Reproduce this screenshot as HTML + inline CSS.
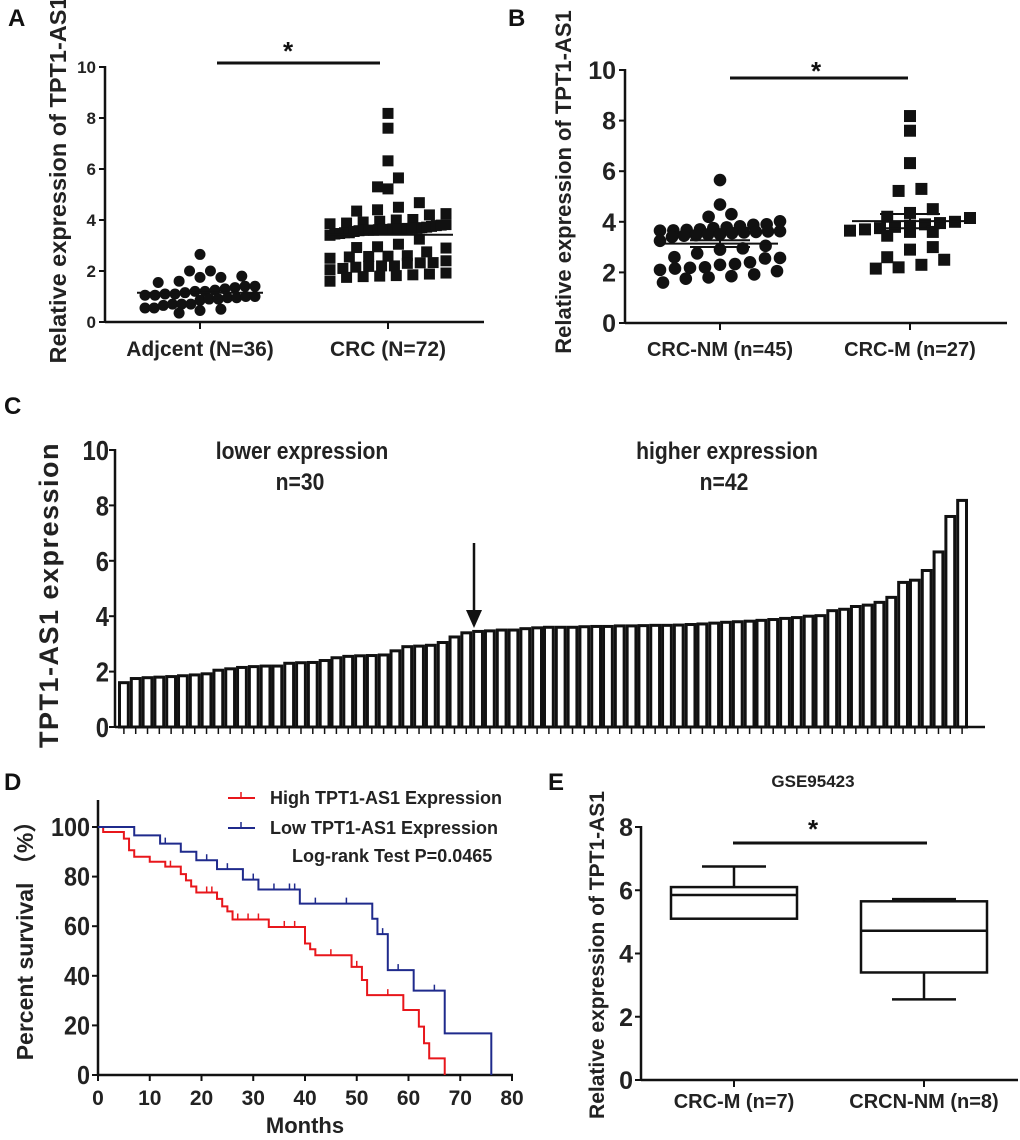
<!DOCTYPE html>
<html><head><meta charset="utf-8"><style>
html,body{margin:0;padding:0;background:#fff}
svg{display:block;font-family:"Liberation Sans",Arial,sans-serif;font-weight:bold}
</style></head><body>
<svg id="fig" width="1020" height="1140" viewBox="0 0 1020 1140" xmlns="http://www.w3.org/2000/svg"></svg>
<script>
// ---------- DATA ----------
const adjValues=[2.65,2.0,2.0,1.75,1.75,1.8,1.6,1.55,1.4,1.4,1.35,1.3,1.25,1.2,1.2,1.15,1.1,1.1,1.05,1.05,1.0,1.0,0.95,0.95,0.9,0.9,0.85,0.7,0.7,0.7,0.65,0.55,0.55,0.5,0.45,0.35];
const lowerBars=[1.6,1.75,1.78,1.8,1.82,1.85,1.88,1.92,2.05,2.1,2.15,2.18,2.2,2.2,2.3,2.32,2.33,2.4,2.5,2.55,2.57,2.58,2.6,2.75,2.9,2.92,2.95,3.05,3.25,3.4];
const higherBars=[3.45,3.47,3.5,3.5,3.55,3.58,3.6,3.6,3.6,3.62,3.63,3.63,3.65,3.65,3.66,3.67,3.67,3.68,3.7,3.72,3.75,3.78,3.8,3.82,3.85,3.88,3.92,3.95,4.0,4.02,4.2,4.25,4.35,4.4,4.5,4.68,5.22,5.3,5.65,6.32,7.6,8.18];
const nmValues=[5.65,4.68,4.3,4.2,4.02,3.9,3.88,3.82,3.78,3.75,3.7,3.68,3.66,3.65,3.63,3.62,3.6,3.58,3.55,3.5,3.5,3.47,3.45,3.4,3.25,3.05,2.95,2.9,2.75,2.6,2.57,2.55,2.4,2.33,2.3,2.2,2.18,2.15,2.1,2.05,1.92,1.85,1.8,1.75,1.6];
const mValues=[8.18,7.6,6.32,5.3,5.22,4.5,4.35,4.2,4.15,4.0,3.95,3.9,3.85,3.8,3.75,3.7,3.65,3.6,3.6,3.45,3.0,2.9,2.6,2.5,2.3,2.2,2.15];
const highKmTimes=[0,1,5,6,7,10,13,16,17,18,19,23,24,25,26,33,40,41,42,49,51,52,59,62,63,64,67];
const highKmSurv=[100,98,95.3,90.6,88,86,84,81,78.5,76,73.6,71,68,66,62.7,59.7,53,50.7,48.3,43.6,38.3,32.2,26.2,19.5,12.8,6.7,0];
const highCensor=[14,21,22,27,29,31,36,38,41,45,50,56];
const lowKmTimes=[0,7,12,16,19,23,28,31,39,53,54,56,61,67,76];
const lowKmSurv=[100,96.6,93.3,90,86.6,83,78.8,74.8,69.1,63,56.8,42.3,34,16.8,0];
const lowCensor=[13,21,25,30,34,37,38,42,48,55,58,65];
const boxGroups=["CRC-M (n=7)","CRCN-NM (n=8)"];
const boxMin=[5.1,2.55];
const boxQ1=[5.1,3.4];
const boxMed=[5.85,4.72];
const boxQ3=[6.1,5.65];
const boxMax=[6.75,5.72];
const ticks10=[0,2,4,6,8,10];
const ticks8=[0,2,4,6,8];
const kmYTicks=[0,20,40,60,80,100];
const kmXTicks=[0,10,20,30,40,50,60,70,80];

// ---------- HELPERS ----------
const svg=document.getElementById('fig');
const NS='http://www.w3.org/2000/svg';
function mk(tag,attrs,parent){const e=document.createElementNS(NS,tag);for(const k in attrs)e.setAttribute(k,attrs[k]);(parent||svg).appendChild(e);return e;}
function txt(s,attrs,parent){const e=mk('text',attrs,parent);e.textContent=s;return e;}
function lin(x1,y1,x2,y2,w,c,parent){return mk('line',{x1,y1,x2,y2,stroke:c||'#111','stroke-width':w||2},parent);}
function mean(a){return a.reduce((s,v)=>s+v,0)/a.length;}
function sem(a){const m=mean(a);return Math.sqrt(a.reduce((s,v)=>s+(v-m)*(v-m),0)/(a.length-1))/Math.sqrt(a.length);}
// row-binned swarm with limited half width
function swarm(vals,cx,y,d,maxHW){const rows={};
 vals.slice().sort((a,b)=>a-b).forEach(v=>{const k=Math.round(y(v)/(d*1.1));(rows[k]=rows[k]||[]).push(v);});
 const pts=[];
 Object.keys(rows).forEach(k=>{const r=rows[k];const n=r.length;
  const s=n>1?Math.min(d*1.9,2*maxHW/(n-1)):0;
  r.forEach((v,i)=>{pts.push({x:cx+(i-(n-1)/2)*s,y:y(v),v});});});
 return pts;}

// ---------- PANEL LETTERS ----------
[['A',8,26],['B',508,26],['C',4,414],['D',4,790],['E',548,790]].forEach(([l,x,y])=>{
 const t=txt(l,{x,y,'font-size':24,fill:'#111'});
 
 });

// ---------- PANEL A ----------
(function(){
 const g=mk('g',{});
 const X0=105,X1=484,Y0=322,Y10=67;const y=v=>Y0+(Y10-Y0)*v/10;
 lin(X0,Y10-1,X0,Y0+1,2.5,'#111',g);lin(X0,Y0,X1,Y0,2.5,'#111',g);
 ticks10.forEach(t=>{lin(X0-6,y(t),X0,y(t),2,'#111',g);const e=txt(String(t),{x:X0-9,y:y(t)+6,'font-size':17,'text-anchor':'end',fill:'#222'},g);});
 const cats=['Adjcent (N=36)','CRC (N=72)'],cx=[200,388];
 cats.forEach((c,i)=>{lin(cx[i],Y0,cx[i],Y0+7,2,'#111',g);const e=txt(c,{x:cx[i],y:356,'font-size':21,'text-anchor':'middle',fill:'#222'},g);});
 const yl=txt('Relative expression of TPT1-AS1',{x:0,y:0,'font-size':23.5,'text-anchor':'middle',fill:'#222',transform:'translate(66,180) rotate(-90)'},g);
 
 const crc=lowerBars.concat(higherBars);
 swarm(adjValues,cx[0],y,11,55).forEach(p=>{const c=mk('circle',{cx:p.x,cy:p.y,r:5.5,fill:'#111'},g);});
 swarm(crc,cx[1],y,11,58).forEach(p=>{const r=mk('rect',{x:p.x-5.5,y:p.y-5.5,width:11,height:11,fill:'#111'},g);});
 lin(137,y(mean(adjValues)),263,y(mean(adjValues)),2,'#111',g);
 lin(327,y(mean(crc)),453,y(mean(crc)),2,'#111',g);
 const sb=lin(217,63,380,63,3,'#111',g);
 txt('*',{x:288,y:60,'font-size':26,'text-anchor':'middle',fill:'#111'},g);
})();

// ---------- PANEL B ----------
(function(){
 const g=mk('g',{});
 const X0=625,X1=1007,Y0=323,Y10=70;const y=v=>Y0+(Y10-Y0)*v/10;
 lin(X0,Y10-1,X0,Y0+1,2.5,'#111',g);lin(X0,Y0,X1,Y0,2.5,'#111',g);
 ticks10.forEach(t=>{lin(X0-6,y(t),X0,y(t),2,'#111',g);const e=txt(String(t),{x:X0-9,y:y(t)+9,'font-size':25,'text-anchor':'end',fill:'#222'},g);});
 const cats=['CRC-NM (n=45)','CRC-M (n=27)'],cx=[720,910];
 cats.forEach((c,i)=>{lin(cx[i],Y0,cx[i],Y0+7,2,'#111',g);const e=txt(c,{x:cx[i],y:356,'font-size':20,'text-anchor':'middle',fill:'#222'},g);});
 const yl=txt('Relative expression of TPT1-AS1',{x:0,y:0,'font-size':22,'text-anchor':'middle',fill:'#222',transform:'translate(571,182) rotate(-90)'},g);
 
 swarm(nmValues,cx[0],y,12,60).forEach(p=>{const c=mk('circle',{cx:p.x,cy:p.y,r:6.3,fill:'#111'},g);});
 swarm(mValues,cx[1],y,12,60).forEach(p=>{const r=mk('rect',{x:p.x-6,y:p.y-6,width:12,height:12,fill:'#111'},g);});
 [[nmValues,cx[0]],[mValues,cx[1]]].forEach(([a,c])=>{const m=mean(a),s=sem(a);
  lin(c-58,y(m),c+58,y(m),2,'#111',g);lin(c-30,y(m+s),c+30,y(m+s),2,'#111',g);lin(c-30,y(m-s),c+30,y(m-s),2,'#111',g);lin(c,y(m+s),c,y(m-s),2,'#111',g);});
 const sb=lin(730,78,908,78,3,'#111',g);
 txt('*',{x:816,y:80,'font-size':26,'text-anchor':'middle',fill:'#111'},g);
})();

// ---------- PANEL C ----------
(function(){
 const g=mk('g',{});
 const X0=115,X1=985,Y0=727,Y10=450;const y=v=>Y0+(Y10-Y0)*v/10;
 const vals=lowerBars.concat(higherBars);const step=(968-118)/vals.length;
 vals.forEach((v,i)=>{const x=118+i*step;const r=mk('rect',{x:x+1.5,y:y(v),width:step-3,height:Y0-y(v),fill:'#fff',stroke:'#111','stroke-width':3},g);
  
  lin(x+step/2,Y0,x+step/2,Y0+7,1.5,'#111',g);});
 lin(X0,Y10-1,X0,Y0+1,2.5,'#111',g);lin(X0,Y0,X1,Y0,2.5,'#111',g);
 ticks10.forEach(t=>{lin(X0-6,y(t),X0,y(t),2,'#111',g);const e=txt(String(t),{x:X0-6,y:y(t)+10,'font-size':28,'text-anchor':'end',fill:'#222',transform:`translate(${(X0-6)*0.15},0) scale(0.85,1)`},g);});
 const yl=txt('TPT1-AS1 expression',{x:0,y:0,'font-size':27,'text-anchor':'middle','letter-spacing':'1.5',fill:'#222',transform:'translate(58,595) rotate(-90)'},g);
 
 [['lower expression',302,459,'c-lower-label'],['n=30',300,490,'c-lower-n'],['higher expression',727,459,'c-higher-label'],['n=42',724,490,'c-higher-n']].forEach(([s,x,yy,n])=>{
  const e=txt(s,{x:0,y:0,'font-size':24,'text-anchor':'middle',fill:'#222',transform:`translate(${x},${yy}) scale(0.88,1)`},g);});
 const ar=lin(474,543,474,615,2.5,'#111',g);
 mk('polygon',{points:'466,610 482,610 474,628',fill:'#111'},g);
})();

// ---------- PANEL D ----------
(function(){
 const g=mk('g',{});
 const X0=98,X80=512,Y0=1075,Y100=827;const x=t=>X0+(X80-X0)*t/80,y=v=>Y0+(Y100-Y0)*v/100;
 lin(X0,800,X0,Y0+1,2.5,'#111',g);lin(X0,Y0,X80+1,Y0,2.5,'#111',g);
 kmYTicks.forEach(t=>{lin(X0-6,y(t),X0,y(t),2,'#111',g);const e=txt(String(t),{x:X0-8,y:y(t)+9,'font-size':26,'text-anchor':'end',fill:'#222',transform:`translate(${(X0-8)*0.1},0) scale(0.9,1)`},g);});
 kmXTicks.forEach(t=>{lin(x(t),Y0,x(t),Y0+6,2,'#111',g);const e=txt(String(t),{x:x(t),y:1105,'font-size':21,'text-anchor':'middle',fill:'#222'},g);});
 const xt=txt('Months',{x:305,y:1133,'font-size':22,'text-anchor':'middle',fill:'#222'},g);
 const yl=txt('Percent survival （%）',{x:0,y:0,'font-size':23,'text-anchor':'middle',fill:'#222','font-family':'"Liberation Sans","Noto Sans CJK SC",sans-serif',transform:'translate(33,935) rotate(-90)'},g);
 
 function km(times,surv,cens,color,name){let d=`M${x(times[0])},${y(surv[0])}`;
  for(let i=1;i<times.length;i++){d+=` H${x(times[i])} V${y(surv[i])}`;}
  const p=mk('path',{d,fill:'none',stroke:color,'stroke-width':2},g);
  cens.forEach(c=>{let s=surv[0];for(let i=0;i<times.length;i++){if(times[i]<=c)s=surv[i];}
   const t=lin(x(c),y(s),x(c),y(s)-6,1.5,color,g);});}
 km(highKmTimes,highKmSurv,highCensor,'#e8161b','high-expression-curve');
 km(lowKmTimes,lowKmSurv,lowCensor,'#1f2a8c','low-expression-curve');
 [['High TPT1-AS1 Expression','#e8161b',798],['Low TPT1-AS1 Expression','#1f2a8c',828]].forEach(([s,c,yy])=>{
  const le=mk('g',{},g);
  lin(228,yy,255,yy,2,c,le);lin(241,yy,241,yy-6,1.5,c,le);
  txt(s,{x:270,y:yy+6,'font-size':18,fill:'#222'},le);});
 const lr=txt('Log-rank Test P=0.0465',{x:292,y:862,'font-size':18,fill:'#222'},g);
})();

// ---------- PANEL E ----------
(function(){
 const g=mk('g',{});
 const X0=641,X1=1018,Y0=1080,Y8=827;const y=v=>Y0+(Y8-Y0)*v/8;
 lin(X0,Y8-1,X0,Y0+1,2.5,'#111',g);lin(X0,Y0,X1,Y0,2.5,'#111',g);
 ticks8.forEach(t=>{lin(X0-6,y(t),X0,y(t),2,'#111',g);const e=txt(String(t),{x:X0-8,y:y(t)+9,'font-size':25,'text-anchor':'end',fill:'#222'},g);});
 const cx=[734,924];
 boxGroups.forEach((c,i)=>{lin(cx[i],Y0,cx[i],Y0+7,2,'#111',g);const e=txt(c,{x:cx[i],y:1108,'font-size':20,'text-anchor':'middle',fill:'#222'},g);
  const b=mk('g',{},g);
  const hw=63;
  mk('rect',{x:cx[i]-hw,y:y(boxQ3[i]),width:2*hw,height:y(boxQ1[i])-y(boxQ3[i]),fill:'#fff',stroke:'#111','stroke-width':2.5},b);
  lin(cx[i]-hw,y(boxMed[i]),cx[i]+hw,y(boxMed[i]),2.5,'#111',b);
  lin(cx[i],y(boxQ3[i]),cx[i],y(boxMax[i]),2.5,'#111',b);lin(cx[i]-32,y(boxMax[i]),cx[i]+32,y(boxMax[i]),2.5,'#111',b);
  if(boxMin[i]<boxQ1[i]){lin(cx[i],y(boxQ1[i]),cx[i],y(boxMin[i]),2.5,'#111',b);lin(cx[i]-32,y(boxMin[i]),cx[i]+32,y(boxMin[i]),2.5,'#111',b);}
 });
 const yl=txt('Relative expression of TPT1-AS1',{x:0,y:0,'font-size':21,'text-anchor':'middle',fill:'#222',transform:'translate(604,955) rotate(-90)'},g);
 
 const tt=txt('GSE95423',{x:813,y:787,'font-size':17,'text-anchor':'middle',fill:'#222'},g);
 const sb=lin(733,843,927,843,3,'#111',g);
 txt('*',{x:813,y:838,'font-size':26,'text-anchor':'middle',fill:'#111'},g);
})();
</script>
</body></html>
